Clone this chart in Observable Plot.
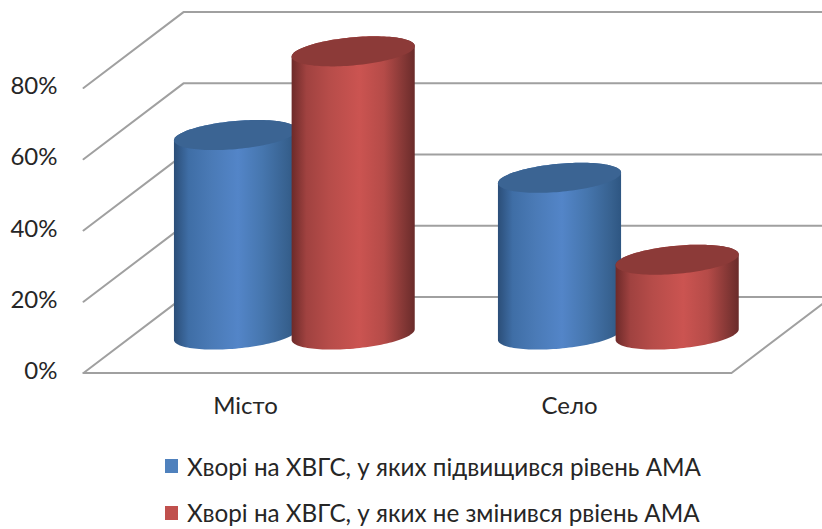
<!DOCTYPE html>
<html lang="uk">
<head>
<meta charset="utf-8">
<script src="https://cdn.jsdelivr.net/npm/d3@7"></script>
<script src="https://cdn.jsdelivr.net/npm/@observablehq/plot@0.6"></script>
<style>
  html, body { margin: 0; padding: 0; background: #fff; overflow: hidden; }
  #chart svg { display: block; }
  .legend { font-family: Lato, "Noto Sans", sans-serif; font-size: 24.25px; color: #262626; height: 99px; }
  .legend div { position: absolute; left: 165px; display: flex; align-items: center; white-space: nowrap; height: 30px; }
  .legend i { display: inline-block; width: 13px; height: 14px; margin-right: 9px; }
</style>
</head>
<body>
<div id="chart"></div>
<div class="legend" id="legend"></div>
<script>
// Share of patients per settlement type, in percent
const categories = ["Місто", "Село"];
const seriesNames = [
  "Хворі на ХВГС, у яких підвищився рівень АМА",
  "Хворі на ХВГС, у яких не змінився рвіень АМА"
];
const raisedAma = [56, 44];
const unchangedAma = [79.5, 21];
const ticksPct = [0, 20, 40, 60, 80];

// Fake-3D floor depth and cylinder proportions, in scale units
const depthX = 0.3086;
const depthY = 21.3;
const radiusX = 0.19;
const radiusY = 3.95;
const tilt = 1.5;
const seriesOffset = [-0.1836, 0.1796];

const palette = [
  {key: "blue", cap: "#3b6493", swatch: "#4f81bd",
   stops: [[0, "#2b4e78"], [0.12, "#3f6ea6"], [0.3, "#4a7ab6"], [0.52, "#5385c8"], [0.72, "#4676ae"], [0.92, "#37618f"], [1, "#2e5682"]]},
  {key: "red", cap: "#8c3a38", swatch: "#c0504d",
   stops: [[0, "#6d2a29"], [0.12, "#a04240"], [0.3, "#b64c49"], [0.55, "#cb5451"], [0.75, "#b54b48"], [0.92, "#813634"], [1, "#6a2b2a"]]}
];

// Upper and lower arcs of a tilted ellipse, sampled along x
function ellipse(cx, cy) {
  return d3.range(0, 61).map(i => {
    const t = Math.PI * (1 - i / 60);
    const c = Math.cos(t), s = Math.sin(t);
    return {x: cx + radiusX * c, mid: cy + tilt * c, up: cy + tilt * c + radiusY * s, low: cy + tilt * c - radiusY * s};
  });
}

// Cylinder body: the base's lower arc up to the cap's upper arc
function body(cx, value) {
  const base = ellipse(cx, depthY / 2);
  const top = ellipse(cx, depthY / 2 + value);
  return base.map((b, i) => ({x: b.x, y1: b.low, y2: top[i].up}));
}

// Cylinders stand halfway back on the floor
const cylinders = categories.flatMap((name, g) =>
  [raisedAma[g], unchangedAma[g]].map((value, s) => ({
    cx: g + 0.5 + depthX / 2 + seriesOffset[s], value, style: palette[s]
  }))
);

// Back-wall and side grid polylines, one per tick
const gridLines = ticksPct.map(t => [
  {x: 0, y: t}, {x: depthX, y: t + depthY}, {x: 2 + 2 * depthX, y: t + depthY}
]);
const floorEdge = [{x: 0, y: 0}, {x: 2, y: 0}, {x: 2 + depthX, y: depthY}];

const gradients = () => {
  const defs = d3.create("svg:defs");
  for (const p of palette) {
    const g = defs.append("linearGradient").attr("id", `side-${p.key}`)
      .attr("x1", 0).attr("x2", 1).attr("y1", 0).attr("y2", 0);
    for (const [o, c] of p.stops) g.append("stop").attr("offset", o).attr("stop-color", c);
  }
  return defs.node();
};

const gridStyle = {x: "x", y: "y", stroke: "#a0a0a0", strokeWidth: 2};

const chart = Plot.plot({
  width: 822,
  height: 430,
  marginTop: 0,
  marginLeft: 83,
  marginRight: 0,
  marginBottom: 58,
  style: {fontFamily: "Lato, 'Noto Sans', sans-serif", fontSize: "24px", color: "#262626", background: "#fff"},
  x: {type: "linear", domain: [0, 2], range: [83, 731]},
  y: {type: "linear", domain: [0, 80], range: [372.5, 87.5]},
  marks: [
    gradients,
    ...gridLines.map(l => Plot.line(l, gridStyle)),
    Plot.line(floorEdge, gridStyle),
    ...cylinders.flatMap(c => [
      Plot.areaY(body(c.cx, c.value), {x: "x", y1: "y1", y2: "y2", fill: `url(#side-${c.style.key})`, curve: "linear"}),
      Plot.areaY(ellipse(c.cx, depthY / 2 + c.value), {x: "x", y1: "low", y2: "up", fill: c.style.cap, curve: "linear"})
    ]),
    Plot.axisY({ticks: ticksPct, tickFormat: d => d + "%", tickSize: 0, tickPadding: 26, dy: -1.5, label: null}),
    Plot.axisX({ticks: [0.5, 1.5], tickFormat: d => categories[d - 0.5], tickSize: 0, tickPadding: 24, label: null})
  ]
});
document.getElementById("chart").append(chart);

const legend = d3.select("#legend");
seriesNames.forEach((name, i) => {
  const row = legend.append("div").style("top", `${451 + i * 46.5}px`);
  row.append("i").style("background", palette[i].swatch);
  row.append("span").text(name);
});
</script>
</body>
</html>
